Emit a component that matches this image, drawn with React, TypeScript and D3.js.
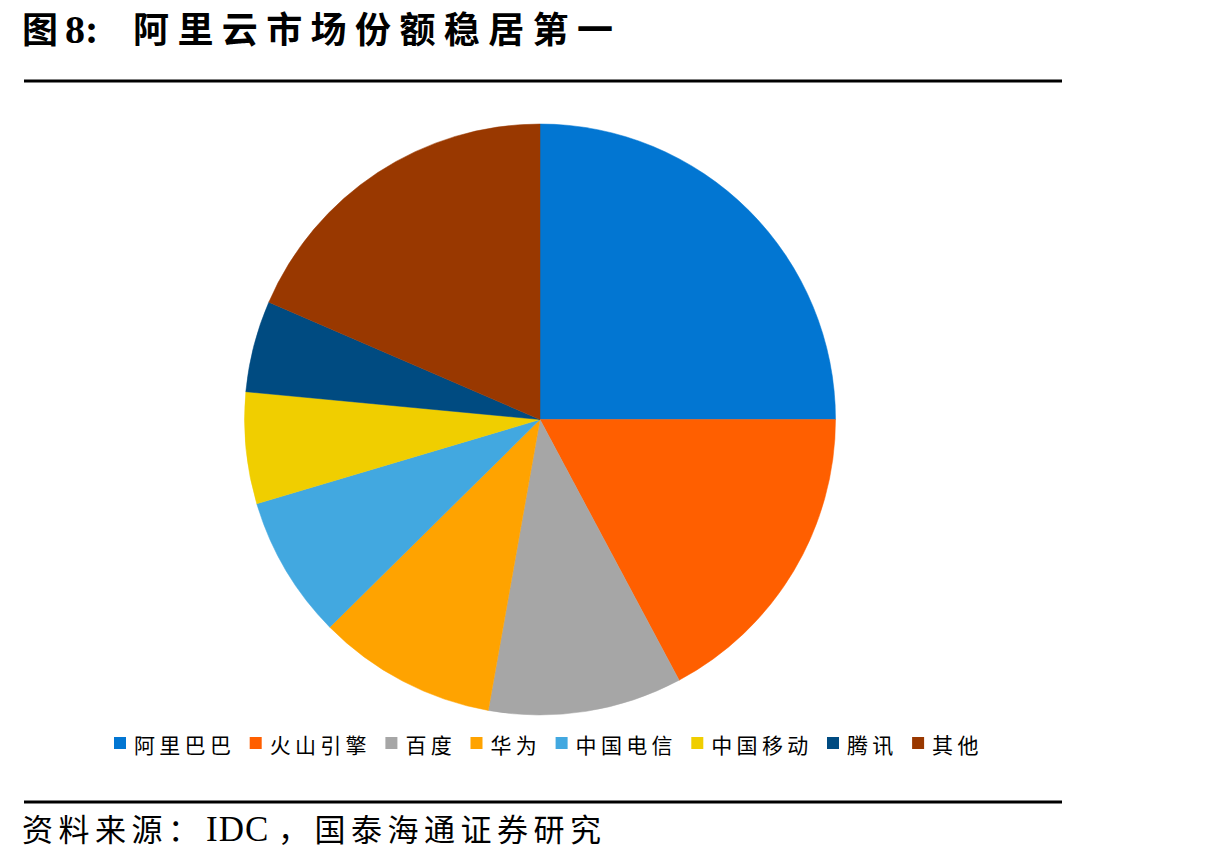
import React from "react";
import * as d3 from "d3";

const categories = ["阿里巴巴", "火山引擎", "百度", "华为", "中国电信", "中国移动", "腾讯", "其他"];
const shares = [25.0, 17.2, 10.6, 9.8, 7.8, 6.1, 5.0, 18.5];
const colors = ["#0276D2", "#FF5F00", "#A6A6A6", "#FFA300", "#42A8E0", "#F0CE00", "#004B81", "#993800"];

const W = 1217;
const H = 860;

export default function App() {
  const cx = 540;
  const cy = 419.5;
  const r = 295.5;
  const pie = d3.pie<number>().sort(null).value((d) => d)(shares);
  const arc = d3.arc<d3.PieArcDatum<number>>().innerRadius(0).outerRadius(r);

  const pitch = 25.3;
  let x = 114;
  const legendItems = categories.map((c, i) => {
    const item = { x, c, color: colors[i] };
    x += 34.5 + c.length * pitch;
    return item;
  });

  const cjk = '"Noto Sans CJK SC", sans-serif';
  const serif = '"Liberation Serif", serif';
  return (
    <svg width={W} height={H} style={{ position: "absolute", left: 0, top: 0, background: "#fff" }}>
      <text y={43} fontFamily={cjk} fontWeight={700} fontSize={36} fill="#000">
        <tspan x={22}>图</tspan>
        <tspan x={65} fontFamily={serif} fontSize={40}>8:</tspan>
        <tspan x={133} letterSpacing={8.4}>阿里云市场份额稳居第一</tspan>
      </text>
      <line x1={24} x2={1062} y1={81} y2={81} stroke="#000" strokeWidth={3} />
      <g transform={`translate(${cx},${cy})`}>
        {pie.map((p, i) => (
          <path key={i} d={arc(p) || ""} fill={colors[i]} stroke={colors[i]} strokeWidth={0.5} />
        ))}
      </g>
      <g>
        {legendItems.map((it, i) => (
          <g key={i}>
            <rect x={it.x} y={737} width={12} height={12} fill={it.color} />
            <text x={it.x + 20} y={753} fontFamily={cjk} fontSize={21} letterSpacing={pitch - 21} fill="#000">
              {it.c}
            </text>
          </g>
        ))}
      </g>
      <line x1={24} x2={1062} y1={802} y2={802} stroke="#000" strokeWidth={3} />
      <text y={841} fontFamily={cjk} fontSize={31} letterSpacing={5.5} fill="#000">
        <tspan x={22}>资料来源：</tspan>
        <tspan x={206} fontFamily={serif} fontSize={35} letterSpacing={1}>IDC</tspan>
        <tspan x={278}>，国泰海通证券研究</tspan>
      </text>
    </svg>
  );
}
